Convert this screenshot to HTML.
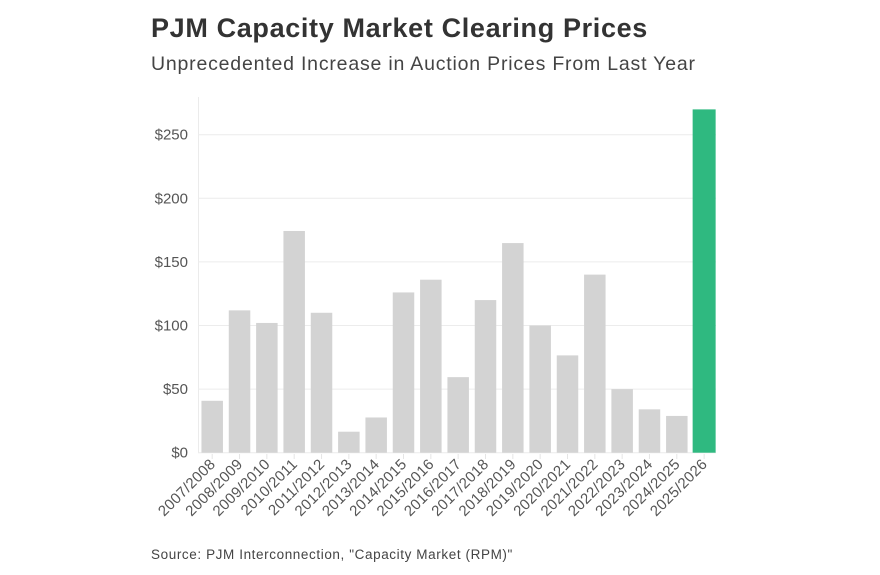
<!DOCTYPE html>
<html><head><meta charset="utf-8"><style>
body{margin:0;background:#fff;font-family:"Liberation Sans",sans-serif;}
svg{display:block}
</style></head><body>
<svg width="880" height="575">
<text x="151" y="37" font-size="27" font-weight="bold" fill="#333" letter-spacing="0.65">PJM Capacity Market Clearing Prices</text>
<text x="151" y="70" font-size="19.5" fill="#444" letter-spacing="0.8">Unprecedented Increase in Auction Prices From Last Year</text>
<line x1="198.5" y1="97" x2="198.5" y2="453" stroke="#ebebeb"/>
<g id="grid"></g><g id="bars"></g><g id="xlabels"></g>
<text x="151" y="559" font-size="13.5" fill="#444" letter-spacing="0.6">Source: PJM Interconnection, "Capacity Market (RPM)"</text>
</svg>
<script>
const categories=["2007/2008","2008/2009","2009/2010","2010/2011","2011/2012","2012/2013","2013/2014","2014/2015","2015/2016","2016/2017","2017/2018","2018/2019","2019/2020","2020/2021","2021/2022","2022/2023","2023/2024","2024/2025","2025/2026"];
const prices=[40.8,111.9,102,174.3,110,16.5,27.7,126,136,59.4,120,164.8,100,76.5,140,50,34.1,28.9,269.9];
const yTicks=[0,50,100,150,200,250];
const ns="http://www.w3.org/2000/svg";
const y0=452.7,pxPer=63.6/50,x0=212.2,pitch=27.33,bw=21.5;
const y=v=>y0-v*pxPer, x=i=>x0+i*pitch;
const grid=document.getElementById('grid'),bars=document.getElementById('bars'),xl=document.getElementById('xlabels');
yTicks.forEach(t=>{
 const l=document.createElementNS(ns,'line');
 
 
 l.setAttribute('x1',198);l.setAttribute('x2',716);l.setAttribute('y1',y(t));l.setAttribute('y2',y(t));
 l.setAttribute('stroke','#ececec');grid.appendChild(l);
 const tx=document.createElementNS(ns,'text');
 
 
 tx.setAttribute('x',188);tx.setAttribute('y',y(t)+5);tx.setAttribute('text-anchor','end');
 tx.setAttribute('font-size','15');tx.setAttribute('fill','#555');tx.textContent='$'+t;grid.appendChild(tx);
});
categories.forEach((c,i)=>{
 const last=i===categories.length-1;
 const r=document.createElementNS(ns,'rect');
 
 
 const bwi=last?23:bw;
 r.setAttribute('x',x(i)-bwi/2);r.setAttribute('width',bwi);
 r.setAttribute('y',y(prices[i]));r.setAttribute('height',y0-y(prices[i]));
 r.setAttribute('fill',last?'#2fb980':'#d3d3d3');bars.appendChild(r);
 const tk=document.createElementNS(ns,'line');
 
 
 tk.setAttribute('x1',x(i));tk.setAttribute('x2',x(i));tk.setAttribute('y1',454);tk.setAttribute('y2',459);
 tk.setAttribute('stroke','#e5e5e5');xl.appendChild(tk);
 const t=document.createElementNS(ns,'text');
 
 
 t.setAttribute('text-anchor','end');t.setAttribute('font-size','15');t.setAttribute('fill','#555');
 t.setAttribute('letter-spacing','0.3');
 t.setAttribute('transform',`translate(${x(i)+4},${465}) rotate(-45)`);t.textContent=c;xl.appendChild(t);
});
</script>
</body></html>
